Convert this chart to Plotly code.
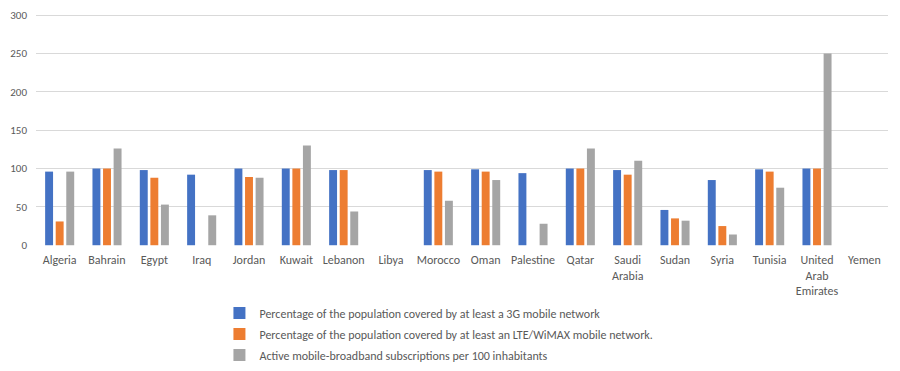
import plotly.graph_objects as go

countries = ["Algeria", "Bahrain", "Egypt", "Iraq", "Jordan", "Kuwait", "Lebanon", "Libya",
             "Morocco", "Oman", "Palestine", "Qatar", "Saudi<br>Arabia", "Sudan", "Syria",
             "Tunisia", "United<br>Arab<br>Emirates", "Yemen"]

cov_3g = [96, 100, 98, 92, 100, 100, 98, None, 98, 99, 94, 100, 98, 46, 85, 99, 100, None]
cov_lte = [31, 100, 88, None, 89, 100, 98, None, 96, 96, None, 100, 92, 35, 25, 96, 100, None]
mbb_subs = [96, 126, 53, 39, 88, 130, 44, None, 58, 85, 28, 126, 110, 32, 14, 75, 250, None]

names = ["Percentage of the population covered by at least a 3G mobile network",
         "Percentage of the population covered by at least an LTE/WiMAX mobile network.",
         "Active mobile-broadband subscriptions per 100 inhabitants"]
colors = ["#4472C4", "#ED7D31", "#A5A5A5"]

FONT = "Carlito, 'Liberation Sans Narrow', 'Arial Narrow', Lato, 'Open Sans', sans-serif"

fig = go.Figure()
for i, (name, vals, c) in enumerate(zip(names, [cov_3g, cov_lte, mbb_subs], colors)):
    fig.add_trace(go.Bar(x=countries, y=vals, name=name, marker_color=c,
                         marker_line_width=0, legendgroup=f"g{i}"))

# page body has an 8px margin, so the figure is sized 892x363
fig.update_layout(
    width=892, height=363,
    margin=dict(l=28, r=12, t=6, b=125, autoexpand=False),
    paper_bgcolor="white", plot_bgcolor="white",
    barmode="group", bargap=0.33, bargroupgap=0.25,
    font=dict(family=FONT, size=11, color="#595959"),
    showlegend=True,
    legend=dict(orientation="v", x=0.2153, xanchor="left", y=0.1997, yanchor="top",
                yref="container", tracegroupgap=2,
                font=dict(size=12, color="#595959"),
                bgcolor="rgba(0,0,0,0)"),
    yaxis=dict(range=[-1, 301.5], tickvals=[0, 50, 100, 150, 200, 250, 300],
               showgrid=True, gridcolor="#D9D9D9", gridwidth=1,
               zeroline=False, showline=False, ticks="", ticklabelstandoff=8,
               automargin=False,
               tickfont=dict(size=11, color="#595959")),
    xaxis=dict(showgrid=False, zeroline=False, showline=False, ticks="",
               automargin=False, ticklabelstandoff=5,
               tickfont=dict(size=12, color="#595959"), tickangle=0),
)

fig.write_html("out.html")
